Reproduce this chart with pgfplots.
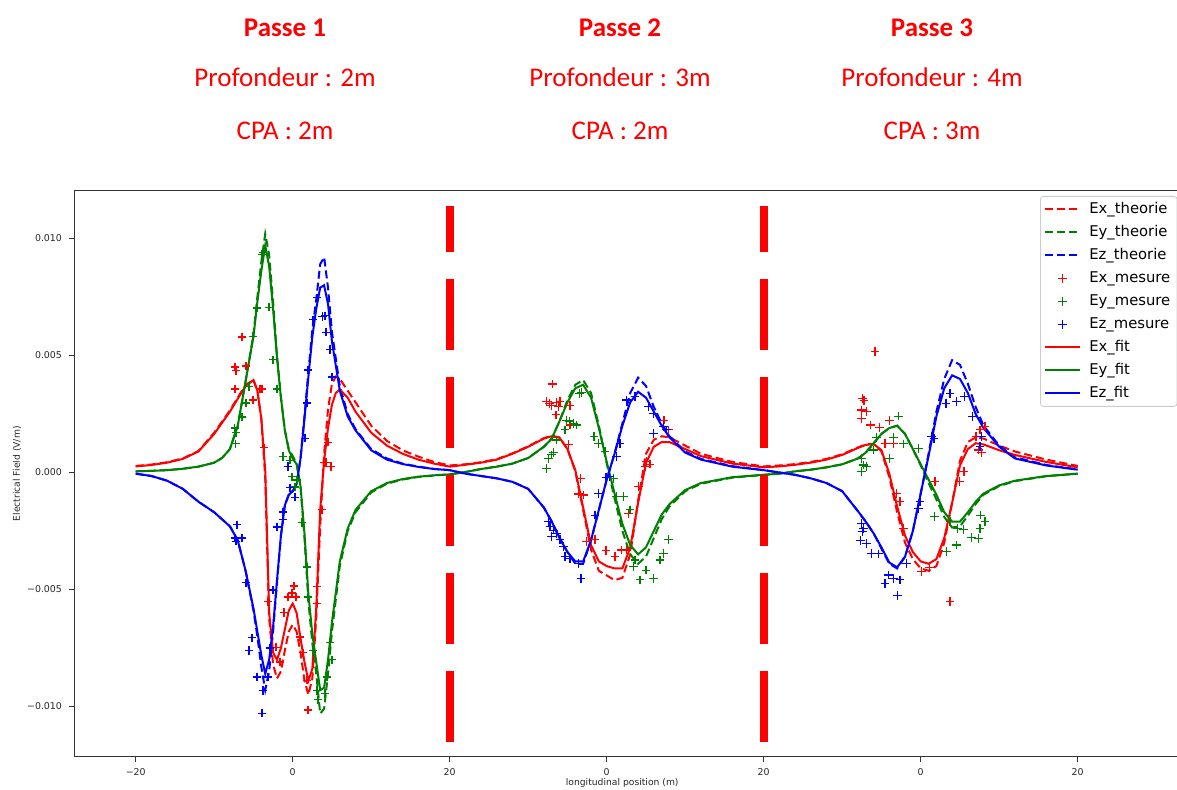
\documentclass[border=0pt]{standalone}
\usepackage{fontspec}
\setmainfont{DejaVu Sans}
\newfontfamily\titlefont{Carlito}
\usepackage{pgfplots}
\pgfplotsset{compat=1.18}
\definecolor{mplred}{rgb}{1,0,0}
\definecolor{mplgreen}{rgb}{0,0.5,0}
\definecolor{mplblue}{rgb}{0,0,1}

\begin{document}
\begin{tikzpicture}
\path[use as bounding box] (0,0) rectangle (588.5pt,395pt);

% pass headers
\tikzset{hbold/.style={font=\titlefont\bfseries\fontsize{13.5}{16}\selectfont, text=red, anchor=base, inner sep=0pt},
         hreg/.style={font=\titlefont\fontsize{13.5}{16}\selectfont, text=red, anchor=base, inner sep=0pt}}
\node[hbold] at (142.5pt,376.5pt) {Passe 1};
\node[hreg]  at (142.5pt,351.5pt) {Profondeur : 2m};
\node[hreg]  at (142.5pt,325pt)   {CPA : 2m};
\node[hbold] at (310pt,376.5pt) {Passe 2};
\node[hreg]  at (310pt,351.5pt) {Profondeur : 3m};
\node[hreg]  at (310pt,325pt)   {CPA : 2m};
\node[hbold] at (466pt,376.5pt) {Passe 3};
\node[hreg]  at (466pt,351.5pt) {Profondeur : 4m};
\node[hreg]  at (466pt,325pt)   {CPA : 3m};

\begin{axis}[
  at={(37pt,16.65pt)}, anchor=south west,
  scale only axis, width=551.5pt, height=282.85pt,
  xmin=-27.86, xmax=112.65, ymin=-0.012145, ymax=0.01203,
  axis x line*=bottom, axis y line*=left,
  axis line style={black!80, line width=0.5pt},
  tick align=outside, major tick length=2.5pt,
  tick style={black!80, line width=0.5pt},
  xtick={-20,0,20,40,60,80,100}, xticklabels={−20,0,20,0,20,0,20},
  ytick={-0.01,-0.005,0,0.005,0.01}, yticklabels={−0.010,−0.005,0.000,0.005,0.010},
  scaled x ticks=false, scaled y ticks=false,
  ticklabel style={font=\fontsize{4.7}{5.2}\selectfont, text=black!85},
  xlabel={longitudinal position (m)}, ylabel={Electrical Field (V/m)},
  label style={font=\fontsize{4.6}{5.2}\selectfont, text=black!85},
  xlabel style={at={(axis description cs:0.497,-0.0465)}, anchor=center},
  ylabel style={at={(axis description cs:-0.0517,0.5)}, anchor=center},
  legend style={at={(axis description cs:0.8758,0.9912)}, anchor=north west,
    draw=black!20, rounded corners=1.5pt, fill=white,
    font=\fontsize{7.4}{8.4}\selectfont, inner xsep=2pt, inner ysep=1.5pt,
    row sep=1.5pt, nodes={inner sep=1.4pt, text height=5.5pt, text depth=1.7pt},
    /tikz/every odd column/.append style={column sep=3pt}},
  legend cell align=left,
  theory/.style={line width=1pt, dash pattern=on 4pt off 2pt},
  fit/.style={line width=1pt},
  meas/.style={only marks, mark=+, mark size=2.2pt, mark options={line width=0.55pt}},
]
\draw[black!80, line width=0.5pt] (rel axis cs:0,1) -- (rel axis cs:1,1);

% ---------- theory (dashed) ----------
\addplot[theory, mplred] coordinates {
(-20,0.28e-3) (-18,0.34e-3) (-16,0.44e-3) (-14,0.6e-3) (-12,0.92e-3) (-10,1.7e-3) (-8,2.65e-3) (-7,3.2e-3) (-6,3.75e-3) (-5,3.95e-3) (-4.5,3.5e-3) (-4,2.3e-3) (-3.5,-0.2e-3) (-3,-6.2e-3) (-2.5,-8.2e-3) (-2,-8.8e-3) (-1.5,-8.5e-3) (-1,-7.6e-3) (-0.5,-6.8e-3) (0,-6.5e-3) (0.5,-6.8e-3) (1,-7.7e-3) (1.5,-8.9e-3) (2,-9.5e-3) (2.5,-8.8e-3) (3,-6.2e-3) (3.5,-2.3e-3) (4,0.8e-3) (4.5,2.7e-3) (5,3.8e-3) (5.5,4.1e-3) (6,4.0e-3) (7,3.5e-3) (8,3.0e-3) (10,2.0e-3) (12,1.35e-3) (14,0.95e-3) (16,0.68e-3) (18,0.45e-3) (20,0.3e-3)
(22,0.35e-3) (24,0.44e-3) (26,0.57e-3) (28,0.82e-3) (30,1.12e-3) (32,1.47e-3) (33,1.57e-3) (34,1.5e-3) (35,1.0e-3) (36,0.05e-3) (37,-1.6e-3) (38,-3.3e-3) (39,-4.2e-3) (40,-4.4e-3) (41,-4.6e-3) (42,-4.5e-3) (43,-3.5e-3) (44,-1.2e-3) (45,0.8e-3) (46,1.4e-3) (47,1.55e-3) (48,1.5e-3) (50,1.15e-3) (52,0.8e-3) (56,0.45e-3) (60,0.26e-3)
(62,0.3e-3) (64,0.36e-3) (66,0.45e-3) (68,0.58e-3) (70,0.78e-3) (72,1.07e-3) (73,1.2e-3) (74,1.22e-3) (75,0.9e-3) (76,-0.2e-3) (77,-1.7e-3) (78,-3.0e-3) (79,-3.7e-3) (80,-4.1e-3) (81,-4.2e-3) (82,-4.0e-3) (83,-3.0e-3) (84,-1.3e-3) (85,0.5e-3) (86,1.3e-3) (87,1.5e-3) (88,1.45e-3) (90,1.15e-3) (92,0.9e-3) (96,0.55e-3) (100,0.28e-3)
};
\addlegendentry{Ex\_theorie}

\addplot[theory, mplgreen] coordinates {
(-20,0.05e-3) (-18,0.07e-3) (-16,0.1e-3) (-14,0.16e-3) (-12,0.25e-3) (-10,0.42e-3) (-9,0.62e-3) (-8,1.0e-3) (-7,2.0e-3) (-6,3.9e-3) (-5,5.9e-3) (-4.5,7.5e-3) (-4,9.0e-3) (-3.5,10.2e-3) (-3,9.3e-3) (-2.5,7.3e-3) (-2,5.0e-3) (-1.5,3.2e-3) (-1,1.8e-3) (-0.5,1.0e-3) (0,0.7e-3) (0.5,0.4e-3) (1,-0.6e-3) (1.5,-2.8e-3) (2,-5.5e-3) (2.5,-7.3e-3) (3,-8.6e-3) (3.5,-10.3e-3) (4,-10.1e-3) (4.5,-8.6e-3) (5,-6.8e-3) (6,-4.0e-3) (7,-2.5e-3) (8,-1.7e-3) (10,-0.85e-3) (12,-0.48e-3) (14,-0.3e-3) (16,-0.19e-3) (18,-0.13e-3) (20,-0.08e-3)
(22,0.02e-3) (24,0.15e-3) (26,0.25e-3) (28,0.38e-3) (30,0.62e-3) (32,1.1e-3) (33,1.45e-3) (34,2.2e-3) (35,3.1e-3) (36,3.75e-3) (37,3.95e-3) (38,3.4e-3) (39,2.0e-3) (40,0.4e-3) (41,-1.1e-3) (42,-2.5e-3) (43,-3.5e-3) (44,-3.9e-3) (45,-3.6e-3) (46,-2.8e-3) (47,-2.0e-3) (48,-1.45e-3) (50,-0.8e-3) (52,-0.48e-3) (56,-0.22e-3) (60,-0.1e-3)
(62,-0.05e-3) (64,0.05e-3) (66,0.12e-3) (68,0.22e-3) (70,0.35e-3) (72,0.6e-3) (73,0.85e-3) (74,1.25e-3) (75,1.65e-3) (76,1.9e-3) (77,2.0e-3) (78,1.65e-3) (79,1.0e-3) (80,0.3e-3) (81,-0.45e-3) (82,-1.15e-3) (83,-1.9e-3) (84,-2.35e-3) (85,-2.3e-3) (86,-1.85e-3) (87,-1.35e-3) (88,-0.95e-3) (90,-0.58e-3) (92,-0.37e-3) (96,-0.16e-3) (100,-0.05e-3)
};
\addlegendentry{Ey\_theorie}

\addplot[theory, mplblue] coordinates {
(-20,-0.05e-3) (-18,-0.15e-3) (-16,-0.35e-3) (-14,-0.7e-3) (-12,-1.25e-3) (-10,-1.7e-3) (-8,-2.3e-3) (-7,-2.9e-3) (-6,-4.2e-3) (-5,-5.9e-3) (-4.5,-7.0e-3) (-4,-8.3e-3) (-3.5,-9.3e-3) (-3,-8.5e-3) (-2.5,-6.8e-3) (-2,-4.7e-3) (-1.5,-2.7e-3) (-1,-1.4e-3) (-0.5,-0.95e-3) (0,-0.8e-3) (0.5,-0.5e-3) (1,0.6e-3) (1.5,2.4e-3) (2,4.3e-3) (2.5,6.1e-3) (3,7.4e-3) (3.5,8.9e-3) (4,9.2e-3) (4.5,7.9e-3) (5,6.0e-3) (6,3.7e-3) (7,2.5e-3) (8,1.85e-3) (10,1.0e-3) (12,0.6e-3) (14,0.38e-3) (16,0.25e-3) (18,0.15e-3) (20,0.1e-3)
(22,-0.05e-3) (24,-0.15e-3) (26,-0.25e-3) (28,-0.4e-3) (30,-0.7e-3) (32,-1.5e-3) (33,-2.1e-3) (34,-2.8e-3) (35,-3.4e-3) (36,-3.9e-3) (37,-3.9e-3) (38,-2.9e-3) (39,-1.6e-3) (40,-0.3e-3) (41,0.8e-3) (42,2.1e-3) (43,3.4e-3) (44,4.05e-3) (45,3.7e-3) (46,2.8e-3) (47,2.1e-3) (48,1.55e-3) (50,0.9e-3) (52,0.58e-3) (56,0.27e-3) (60,0.1e-3)
(62,0.0e-3) (64,-0.1e-3) (66,-0.25e-3) (68,-0.45e-3) (70,-0.8e-3) (72,-1.65e-3) (73,-2.1e-3) (74,-2.6e-3) (75,-3.25e-3) (76,-3.9e-3) (77,-4.1e-3) (78,-3.6e-3) (79,-2.5e-3) (80,-0.9e-3) (81,0.8e-3) (82,2.6e-3) (83,4.0e-3) (84,4.8e-3) (85,4.6e-3) (86,3.8e-3) (87,2.8e-3) (88,2.0e-3) (90,1.15e-3) (92,0.65e-3) (96,0.32e-3) (100,0.13e-3)
};
\addlegendentry{Ez\_theorie}

% ---------- measurements ----------
\addplot[meas, mplred] coordinates {
(-6.46,5.79e-3) (-7.35,4.51e-3) (-7.22,4.34e-3) (-5.95,4.55e-3) (-7.35,3.57e-3) (-4.17,3.57e-3) (-3.91,3.57e-3) (-5.06,3.10e-3) (-3.66,1.05e-3) (4.24,0.41e-3) (4.88,0.24e-3) (4.49,1.30e-3) (-3.15,-5.53e-3) (-2.13,-7.46e-3) (-1.62,-8.10e-3) (-1.11,-6.00e-3) (-0.60,-5.32e-3) (-0.09,-5.15e-3) (0.17,-4.85e-3) (0.42,-5.32e-3) (0.93,-7.03e-3) (1.31,-7.71e-3) (1.82,-8.87e-3) (1.95,-10.15e-3) (3.10,-5.58e-3) (3.10,-4.89e-3) (3.73,-1.60e-3) (3.99,0.41e-3)
(33.12,3.78e-3) (32.36,3.03e-3) (32.69,2.96e-3) (32.99,2.88e-3) (33.63,2.98e-3) (34.05,3.03e-3) (33.83,2.81e-3) (35.32,2.88e-3) (33.54,2.46e-3) (35.32,2.03e-3) (35.11,1.18e-3) (36.69,-0.25e-3) (37.02,-0.96e-3) (37.45,-2.96e-3) (38.51,-2.88e-3) (39.91,-3.34e-3) (41.06,-3.60e-3) (42.55,-3.31e-3) (42.75,-1.74e-3) (44.03,-0.61e-3) (44.88,0.25e-3) (45.10,0.46e-3) (45.52,0.36e-3) (47.30,2.24e-3) (47.85,1.82e-3) (36.38,-0.92e-3) (41.91,-3.31e-3)
(74.18,5.16e-3) (72.61,3.17e-3) (72.78,3.07e-3) (72.48,2.67e-3) (73.12,2.60e-3) (72.48,2.32e-3) (73.63,2.03e-3) (74.73,1.93e-3) (76.00,2.21e-3) (75.45,1.25e-3) (76.51,1.22e-3) (77.78,1.22e-3) (76.94,-0.89e-3) (77.36,-1.25e-3) (77.78,-2.38e-3) (80.13,-4.24e-3) (81.10,-4.05e-3) (81.82,-0.39e-3) (83.73,-5.52e-3) (84.92,-0.39e-3) (85.52,0.03e-3) (87.55,1.82e-3) (88.19,1.96e-3) (87.34,0.96e-3) (87.77,0.85e-3) (87.04,1.53e-3)
};
\addlegendentry{Ex\_mesure}

\addplot[meas, mplgreen] coordinates {
(-3.78,9.42e-3) (-3.91,9.30e-3) (-4.55,7.03e-3) (-3.02,7.07e-3) (-5.06,5.83e-3) (-2.51,4.81e-3) (-2.00,3.57e-3) (-5.57,3.66e-3) (-6.46,2.37e-3) (-7.36,1.90e-3) (-7.23,1.22e-3) (-5.95,2.97e-3) (-7.22,1.69e-3) (-1.24,0.70e-3) (-0.34,0.53e-3) (-0.09,-0.19e-3) (0.55,-0.32e-3) (0.29,-0.62e-3) (1.18,-2.12e-3) (1.82,-4.04e-3) (1.95,-5.32e-3) (2.59,-7.59e-3) (3.10,-9.30e-3) (3.22,-9.72e-3) (4.11,-9.43e-3) (4.37,-8.74e-3) (4.75,-7.25e-3) (5.01,-8.01e-3)
(32.56,0.61e-3) (32.36,0.18e-3) (32.99,0.75e-3) (33.20,0.85e-3) (33.63,1.39e-3) (34.69,1.82e-3) (34.90,2.24e-3) (35.24,2.20e-3) (35.74,2.10e-3) (36.18,2.03e-3) (36.51,3.38e-3) (36.82,3.43e-3) (38.38,1.53e-3) (38.93,1.25e-3) (39.78,0.89e-3) (40.84,-0.25e-3) (41.27,-1.03e-3) (42.11,-1.03e-3) (42.97,-1.60e-3) (43.61,-3.74e-3) (43.39,-4.03e-3) (45.01,-4.17e-3) (44.24,-4.59e-3) (45.94,-4.52e-3) (46.79,-3.74e-3) (47.21,-3.45e-3) (47.85,-2.88e-3)
(72.48,0.61e-3) (72.69,0.32e-3) (73.12,0.25e-3) (72.48,0.03e-3) (73.96,0.96e-3) (74.39,1.50e-3) (76.00,0.61e-3) (76.51,1.50e-3) (77.15,2.41e-3) (77.78,1.22e-3) (79.69,1.03e-3) (81.73,-1.89e-3) (83.73,-2.10e-3) (84.66,-2.41e-3) (85.43,-2.43e-3) (86.50,-2.77e-3) (87.34,-2.81e-3) (87.55,-2.38e-3) (87.64,-1.82e-3) (88.19,-2.10e-3) (83.31,-3.38e-3) (84.59,-3.10e-3)
};
\addlegendentry{Ey\_mesure}

\addplot[meas, mplblue] coordinates {
(3.77,6.65e-3) (4.11,6.69e-3) (4.24,6.00e-3) (4.75,5.27e-3) (5.01,4.08e-3) (2.59,6.52e-3) (3.10,7.46e-3) (1.95,4.38e-3) (1.82,2.97e-3) (1.57,1.47e-3) (-0.60,0.24e-3) (-0.34,-0.66e-3) (0.29,-1.05e-3) (-1.24,-1.69e-3) (-1.24,-1.99e-3) (-2.00,-2.33e-3) (-7.10,-2.24e-3) (-7.35,-2.80e-3) (-7.22,-2.93e-3) (-6.46,-2.80e-3) (-5.95,-4.72e-3) (-5.19,-7.07e-3) (-5.57,-7.59e-3) (-4.55,-8.74e-3) (-3.78,-9.30e-3) (-3.91,-10.28e-3) (-3.15,-8.74e-3) (-2.89,-7.50e-3) (-2.51,-5.02e-3)
(32.56,-2.10e-3) (32.78,-2.32e-3) (33.20,-2.46e-3) (32.99,-2.74e-3) (33.63,-2.60e-3) (34.05,-2.88e-3) (34.47,-3.17e-3) (34.69,-3.60e-3) (35.32,-3.67e-3) (36.38,-3.88e-3) (36.73,-4.52e-3) (38.51,-1.82e-3) (38.93,-0.89e-3) (39.91,-0.21e-3) (40.33,-0.18e-3) (41.27,0.68e-3) (41.69,1.25e-3) (42.55,3.10e-3) (43.61,3.24e-3) (45.30,2.81e-3) (45.94,2.53e-3) (47.21,1.96e-3) (47.64,1.82e-3) (45.94,1.68e-3)
(72.48,-2.17e-3) (72.69,-2.38e-3) (72.61,-2.53e-3) (72.36,-2.91e-3) (73.12,-3.03e-3) (73.76,-3.45e-3) (74.60,-3.48e-3) (75.87,-4.38e-3) (76.51,-4.52e-3) (75.45,-4.74e-3) (77.36,-4.59e-3) (77.02,-5.24e-3) (78.22,-3.88e-3) (79.69,-1.53e-3) (79.91,-1.25e-3) (81.40,1.53e-3) (81.69,1.46e-3) (83.22,2.96e-3) (84.59,3.03e-3) (83.73,3.38e-3) (85.55,3.24e-3) (86.62,2.38e-3) (87.77,1.53e-3) (87.55,1.10e-3)
};
\addlegendentry{Ez\_mesure}

% ---------- fitted model (solid) ----------
\addplot[fit, mplred] coordinates {
(-20,0.26e-3) (-18,0.32e-3) (-16,0.42e-3) (-14,0.58e-3) (-12,0.9e-3) (-10,1.65e-3) (-8,2.6e-3) (-7,3.15e-3) (-6,3.7e-3) (-5,3.95e-3) (-4.5,3.5e-3) (-4,2.3e-3) (-3.5,0.1e-3) (-3,-6.0e-3) (-2.5,-7.7e-3) (-2,-8.0e-3) (-1.5,-7.5e-3) (-1,-6.7e-3) (-0.5,-5.9e-3) (0,-5.6e-3) (0.5,-6.0e-3) (1,-7.1e-3) (1.5,-8.1e-3) (2,-8.9e-3) (2.5,-8.4e-3) (3,-5.8e-3) (3.5,-1.6e-3) (4,0.5e-3) (4.5,1.9e-3) (5,2.9e-3) (5.5,3.4e-3) (6,3.55e-3) (7,3.2e-3) (8,2.6e-3) (10,1.7e-3) (12,1.15e-3) (14,0.8e-3) (16,0.55e-3) (18,0.38e-3) (20,0.25e-3)
(22,0.33e-3) (24,0.42e-3) (26,0.55e-3) (28,0.8e-3) (30,1.1e-3) (32,1.45e-3) (33,1.55e-3) (34,1.48e-3) (35,1.0e-3) (36,0.1e-3) (37,-1.5e-3) (38,-3.1e-3) (39,-3.8e-3) (40,-4.0e-3) (41,-4.1e-3) (42,-4.1e-3) (43,-3.2e-3) (44,-1.3e-3) (45,0.4e-3) (46,1.1e-3) (47,1.3e-3) (48,1.3e-3) (50,1.0e-3) (52,0.7e-3) (56,0.38e-3) (60,0.22e-3)
(62,0.26e-3) (64,0.33e-3) (66,0.42e-3) (68,0.55e-3) (70,0.75e-3) (72,1.05e-3) (73,1.18e-3) (74,1.22e-3) (75,0.95e-3) (76,-0.05e-3) (77,-1.45e-3) (78,-2.7e-3) (79,-3.4e-3) (80,-3.8e-3) (81,-3.9e-3) (82,-3.7e-3) (83,-2.8e-3) (84,-1.3e-3) (85,0.3e-3) (86,1.0e-3) (87,1.25e-3) (88,1.2e-3) (90,0.95e-3) (92,0.75e-3) (96,0.45e-3) (100,0.22e-3)
};
\addlegendentry{Ex\_fit}

\addplot[fit, mplgreen] coordinates {
(-20,0.05e-3) (-18,0.07e-3) (-16,0.1e-3) (-14,0.16e-3) (-12,0.25e-3) (-10,0.42e-3) (-9,0.62e-3) (-8,1.0e-3) (-7,2.0e-3) (-6,3.9e-3) (-5,5.8e-3) (-4.5,7.3e-3) (-4,8.6e-3) (-3.5,9.7e-3) (-3,8.8e-3) (-2.5,7.0e-3) (-2,4.9e-3) (-1.5,3.2e-3) (-1,1.8e-3) (-0.5,0.95e-3) (0,0.6e-3) (0.5,0.35e-3) (1,-0.6e-3) (1.5,-2.6e-3) (2,-5.2e-3) (2.5,-6.9e-3) (3,-8.1e-3) (3.5,-9.3e-3) (4,-9.2e-3) (4.5,-8.0e-3) (5,-6.4e-3) (6,-3.8e-3) (7,-2.4e-3) (8,-1.6e-3) (10,-0.8e-3) (12,-0.45e-3) (14,-0.28e-3) (16,-0.18e-3) (18,-0.12e-3) (20,-0.08e-3)
(22,0.02e-3) (24,0.15e-3) (26,0.25e-3) (28,0.38e-3) (30,0.62e-3) (32,1.1e-3) (33,1.45e-3) (34,2.2e-3) (35,3.0e-3) (36,3.6e-3) (37,3.75e-3) (38,3.2e-3) (39,1.9e-3) (40,0.45e-3) (41,-0.9e-3) (42,-2.2e-3) (43,-3.1e-3) (44,-3.5e-3) (45,-3.2e-3) (46,-2.5e-3) (47,-1.8e-3) (48,-1.35e-3) (50,-0.75e-3) (52,-0.45e-3) (56,-0.2e-3) (60,-0.1e-3)
(62,-0.05e-3) (64,0.05e-3) (66,0.12e-3) (68,0.22e-3) (70,0.35e-3) (72,0.6e-3) (73,0.85e-3) (74,1.25e-3) (75,1.65e-3) (76,1.9e-3) (77,2.0e-3) (78,1.65e-3) (79,1.0e-3) (80,0.35e-3) (81,-0.3e-3) (82,-0.95e-3) (83,-1.7e-3) (84,-2.1e-3) (85,-2.1e-3) (86,-1.7e-3) (87,-1.25e-3) (88,-0.9e-3) (90,-0.55e-3) (92,-0.35e-3) (96,-0.15e-3) (100,-0.05e-3)
};
\addlegendentry{Ey\_fit}

\addplot[fit, mplblue] coordinates {
(-20,-0.05e-3) (-18,-0.15e-3) (-16,-0.35e-3) (-14,-0.7e-3) (-12,-1.25e-3) (-10,-1.7e-3) (-8,-2.3e-3) (-7,-2.9e-3) (-6,-4.2e-3) (-5,-5.8e-3) (-4.5,-6.8e-3) (-4,-7.8e-3) (-3.5,-8.6e-3) (-3,-8.0e-3) (-2.5,-6.6e-3) (-2,-4.6e-3) (-1.5,-2.7e-3) (-1,-1.4e-3) (-0.5,-0.95e-3) (0,-0.8e-3) (0.5,-0.5e-3) (1,0.6e-3) (1.5,2.3e-3) (2,4.1e-3) (2.5,5.8e-3) (3,7.0e-3) (3.5,7.9e-3) (4,8.0e-3) (4.5,7.2e-3) (5,5.6e-3) (6,3.5e-3) (7,2.4e-3) (8,1.8e-3) (10,0.95e-3) (12,0.55e-3) (14,0.36e-3) (16,0.24e-3) (18,0.15e-3) (20,0.1e-3)
(22,-0.05e-3) (24,-0.15e-3) (26,-0.25e-3) (28,-0.4e-3) (30,-0.7e-3) (32,-1.5e-3) (33,-2.1e-3) (34,-2.8e-3) (35,-3.4e-3) (36,-3.8e-3) (37,-3.8e-3) (38,-2.9e-3) (39,-1.6e-3) (40,-0.3e-3) (41,0.8e-3) (42,2.0e-3) (43,3.0e-3) (44,3.45e-3) (45,3.2e-3) (46,2.6e-3) (47,2.0e-3) (48,1.5e-3) (50,0.85e-3) (52,0.55e-3) (56,0.25e-3) (60,0.1e-3)
(62,0.0e-3) (64,-0.1e-3) (66,-0.25e-3) (68,-0.45e-3) (70,-0.8e-3) (72,-1.65e-3) (73,-2.1e-3) (74,-2.6e-3) (75,-3.2e-3) (76,-3.85e-3) (77,-4.05e-3) (78,-3.6e-3) (79,-2.5e-3) (80,-0.9e-3) (81,0.7e-3) (82,2.4e-3) (83,3.6e-3) (84,4.15e-3) (85,4.0e-3) (86,3.4e-3) (87,2.5e-3) (88,1.9e-3) (90,1.1e-3) (92,0.6e-3) (96,0.3e-3) (100,0.12e-3)
};
\addlegendentry{Ez\_fit}

% ---------- separators between passes ----------
\addplot[mplred, line width=4pt, dash pattern=on 35.5pt off 13.5pt, forget plot] coordinates {(20,-0.01152) (20,0.01139)};
\addplot[mplred, line width=4pt, dash pattern=on 35.5pt off 13.5pt, forget plot] coordinates {(60,-0.01152) (60,0.01139)};
\end{axis}
\end{tikzpicture}
\end{document}
